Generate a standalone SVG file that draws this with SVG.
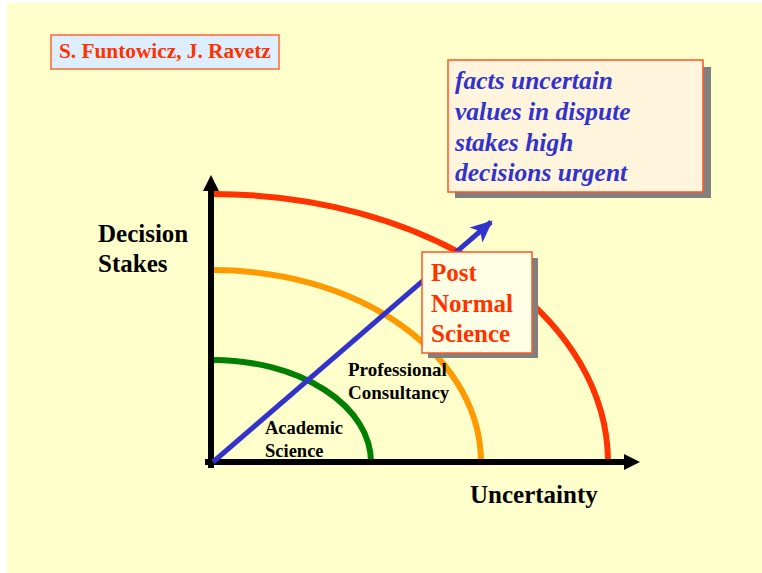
<svg xmlns="http://www.w3.org/2000/svg" width="762" height="573" viewBox="0 0 762 573">
<defs>
<style>
.t{font-family:"Liberation Serif","Times New Roman",serif;font-weight:bold}
.ax{stroke:#000;stroke-width:6;fill:none}
.arc{fill:none;stroke-width:6;stroke-linecap:round}
.shadow{fill:#808080}
</style>
<marker id="ah" viewBox="0 0 10 10" refX="9" refY="5" markerWidth="4.4" markerHeight="4.4" orient="auto" markerUnits="strokeWidth">
<path d="M0,0.5 L10,5 L0,9.5 L2.5,5 Z" fill="#3333CC"/>
</marker>
</defs>
<rect x="0" y="0" width="762" height="573" fill="#FFFFFF"/>
<rect x="7" y="3" width="755" height="570" fill="#FFFFCC"/>

<g id="credit">
<rect x="51" y="35" width="228" height="34" fill="#DDEEFF" stroke="#FF6633" stroke-width="1.5"/>
<text class="t" x="59" y="58" font-size="21.3" fill="#FF3300">S. Funtowicz, J. Ravetz</text>
</g>

<g id="conditions">
<rect class="shadow" x="455" y="67" width="256" height="131"/>
<rect x="448" y="60" width="255" height="132" fill="#FFF5DC" stroke="#FF5522" stroke-width="1.5"/>
<text class="t" font-style="italic" font-size="25.5" fill="#3333CC">
<tspan x="455" y="89">facts uncertain</tspan>
<tspan x="455" y="120">values in dispute</tspan>
<tspan x="455" y="151">stakes high</tspan>
<tspan x="455" y="181">decisions urgent</tspan>
</text>
</g>

<g id="connectors">
<path class="arc" stroke="#FF3300" d="M213,194 A395,268 0 0 1 608,462"/>
<path class="arc" stroke="#FF9900" d="M213,270 A268,192 0 0 1 481,462"/>
<path class="arc" stroke="#007F00" d="M213,360 A158,102 0 0 1 371,462"/>
<g id="axes">
<line class="ax" x1="211" y1="468" x2="211" y2="188"/>
<path d="M211,175 L219,191 L203,191 Z" fill="#000"/>
<line class="ax" x1="205" y1="462" x2="627" y2="462"/>
<path d="M640,462 L624,470 L624,454 Z" fill="#000"/>
</g>
<line x1="213" y1="462" x2="491" y2="222" stroke="#3333CC" stroke-width="5" marker-end="url(#ah)"/>
</g>

<g id="pns">
<rect class="shadow" x="428" y="258" width="110" height="100"/>
<rect x="422" y="252" width="110" height="101" fill="#FFFFE6" stroke="#FF5522" stroke-width="1.5"/>
<text class="t" font-size="25" fill="#FF3300">
<tspan x="431" y="281">Post</tspan>
<tspan x="431" y="312">Normal</tspan>
<tspan x="431" y="342">Science</tspan>
</text>
</g>

<g id="label-stakes">
<text class="t" font-size="25" fill="#000"><tspan x="98" y="242">Decision</tspan><tspan x="98" y="272">Stakes</tspan></text>
</g>
<g id="label-uncertainty">
<text class="t" x="470" y="503" font-size="25" fill="#000">Uncertainty</text>
</g>
<g id="label-professional">
<text class="t" font-size="19" fill="#000"><tspan x="348" y="376">Professional</tspan><tspan x="348" y="399">Consultancy</tspan></text>
</g>
<g id="label-academic">
<text class="t" font-size="18.5" fill="#000"><tspan x="265" y="434">Academic</tspan><tspan x="265" y="457">Science</tspan></text>
</g>
</svg>
